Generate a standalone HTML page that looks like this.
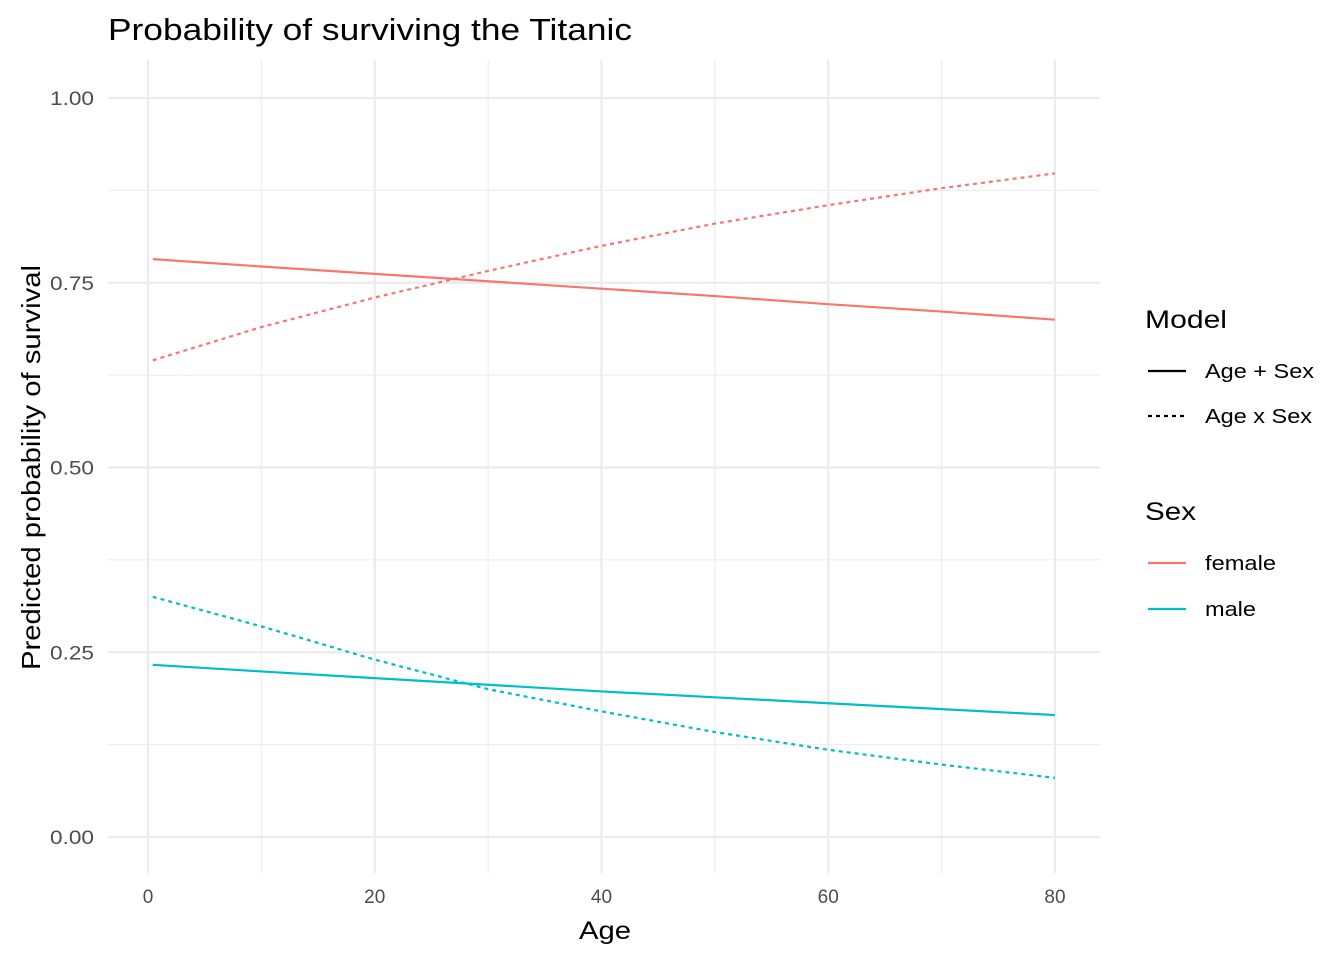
<!DOCTYPE html>
<html><head><meta charset="utf-8"><style>
body{margin:0;background:#fff;font-family:"Liberation Sans",sans-serif}
</style></head><body>
<svg id="c" width="1344" height="960" xmlns="http://www.w3.org/2000/svg" font-family="Liberation Sans, sans-serif">
<text x="108" y="40" font-size="31" fill="#000" textLength="524" lengthAdjust="spacingAndGlyphs">Probability of surviving the Titanic</text>
<g id="grid"></g>
<g id="lines"></g>
<text x="579" y="939" font-size="25" textLength="52" lengthAdjust="spacingAndGlyphs">Age</text>
<text transform="translate(40,670) rotate(-90)" font-size="26" textLength="405" lengthAdjust="spacingAndGlyphs">Predicted probability of survival</text>
<g>
<text x="1145" y="328" font-size="25" textLength="82" lengthAdjust="spacingAndGlyphs">Model</text>
<line x1="1148" x2="1186" y1="371" y2="371" stroke="#000" stroke-width="2.2"/>
<text x="1205" y="378" font-size="20" textLength="109" lengthAdjust="spacingAndGlyphs">Age + Sex</text>
<line x1="1148" x2="1186" y1="416" y2="416" stroke="#000" stroke-width="2.2" stroke-dasharray="4,4"/>
<text x="1205" y="423" font-size="20" textLength="107" lengthAdjust="spacingAndGlyphs">Age x Sex</text>
</g>
<g>
<text x="1145" y="520" font-size="25" textLength="51" lengthAdjust="spacingAndGlyphs">Sex</text>
<line x1="1148" x2="1186" y1="563" y2="563" stroke="#F8766D" stroke-width="2.2"/>
<text x="1205" y="570" font-size="20" textLength="71" lengthAdjust="spacingAndGlyphs">female</text>
<line x1="1148" x2="1186" y1="609" y2="609" stroke="#00BFC4" stroke-width="2.2"/>
<text x="1205" y="616" font-size="20" textLength="51" lengthAdjust="spacingAndGlyphs">male</text>
</g>
</svg>
<script>
const ages=[0.42,10,20,30,40,50,60,70,80];
const femaleAdd=[0.782,0.772,0.762,0.752,0.742,0.732,0.721,0.711,0.700];
const maleAdd=[0.233,0.224,0.215,0.206,0.197,0.189,0.181,0.173,0.165];
const femaleInt=[0.645,0.690,0.730,0.766,0.800,0.830,0.855,0.878,0.898];
const maleInt=[0.325,0.285,0.240,0.200,0.170,0.142,0.118,0.098,0.080];
const xTicks=[0,20,40,60,80];
const yTicks=[0,0.25,0.5,0.75,1];
const yTickLabels=["0.00","0.25","0.50","0.75","1.00"];
const X=a=>148+a*(1055-148)/80;
const Y=v=>837-v*(837-98);
const ns="http://www.w3.org/2000/svg";
const g=document.getElementById('grid'),L=document.getElementById('lines');
function mk(tag,at,p){const e=document.createElementNS(ns,tag);for(const k in at)e.setAttribute(k,at[k]);p.appendChild(e);return e;}
for(let a=10;a<=70;a+=20){const e=mk('line',{x1:X(a),x2:X(a),y1:60,y2:873,stroke:'#ebebeb','stroke-width':1},g);

}
for(let v=0.125;v<1;v+=0.25){const e=mk('line',{x1:108,x2:1100,y1:Y(v),y2:Y(v),stroke:'#ebebeb','stroke-width':1},g);

}
xTicks.forEach(a=>{const e=mk('line',{x1:X(a),x2:X(a),y1:60,y2:873,stroke:'#ebebeb','stroke-width':2.2},g);


const t=mk('text',{x:X(a),y:903,'font-size':19,fill:'#4d4d4d','text-anchor':'middle'},g);t.textContent=a;

});
yTicks.forEach((v,i)=>{const e=mk('line',{x1:108,x2:1100,y1:Y(v),y2:Y(v),stroke:'#ebebeb','stroke-width':2.2},g);


const t=mk('text',{x:94,y:Y(v)+7,'font-size':19,fill:'#4d4d4d','text-anchor':'end',textLength:44,lengthAdjust:'spacingAndGlyphs'},g);t.textContent=yTickLabels[i];

});
function line(vals,col,dash,name){const d=vals.map((v,i)=>(i?'L':'M')+X(ages[i])+','+Y(v)).join('');
const e=mk('path',{d:d,fill:'none',stroke:col,'stroke-width':2.2},L);if(dash)e.setAttribute('stroke-dasharray','4,4');

}
line(femaleAdd,'#F8766D',false,'female-age-plus-sex-line');
line(maleAdd,'#00BFC4',false,'male-age-plus-sex-line');
line(femaleInt,'#F8766D',true,'female-age-x-sex-line');
line(maleInt,'#00BFC4',true,'male-age-x-sex-line');
</script>
</body></html>
